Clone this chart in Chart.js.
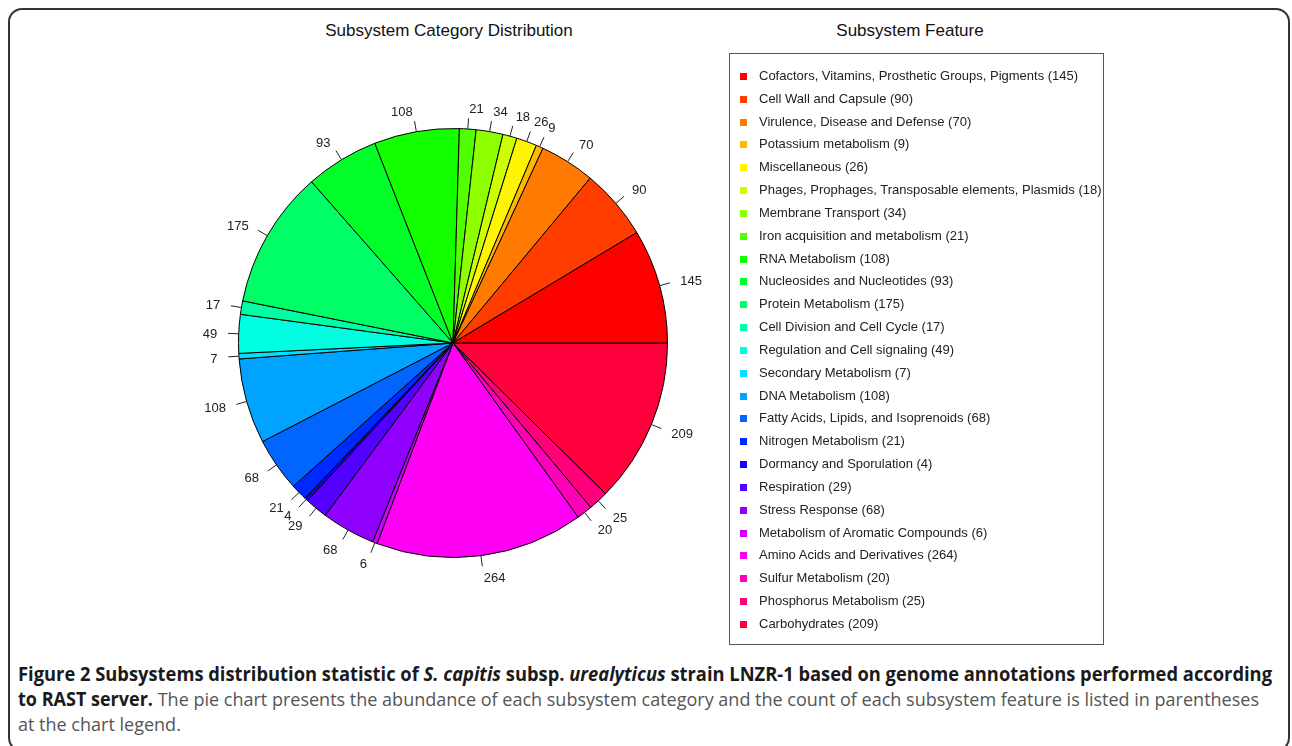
<!DOCTYPE html>
<html lang="en">
<head>
    <meta charset="UTF-8">
    <title>Subsystem Category Distribution</title>
    <script src="https://cdn.jsdelivr.net/npm/chart.js"></script>
    <style>
        body {
            margin: 0;
            width: 1292px;
            height: 746px;
            overflow: hidden;
            background: #fff;
            font-family: Arial, "Liberation Sans", sans-serif;
            position: relative;
        }
        .frame {
            position: absolute;
            left: 8px;
            top: 8px;
            width: 1278px;
            height: 740px;
            border: 2px solid #333;
            border-radius: 14px;
        }
        .title {
            position: absolute;
            top: 21px;
            font-size: 17px;
            color: #111;
            white-space: nowrap;
            transform: translateX(-50%);
        }
        #chart {
            position: absolute;
            left: 153px;
            top: 43px;
        }
        .legend-box {
            position: absolute;
            left: 729px;
            top: 53px;
            width: 375px;
            height: 592px;
            border: 1px solid #555;
            box-sizing: border-box;
            padding-top: 11px;
        }
        .legend-row {
            height: 22.84px;
            line-height: 22.84px;
            font-size: 13px;
            color: #222;
            white-space: nowrap;
            position: relative;
            padding-left: 29px;
        }
        .legend-row span.mark {
            position: absolute;
            left: 10px;
            top: 8px;
            width: 7px;
            height: 7px;
        }
        .caption {
            position: absolute;
            left: 18px;
            top: 662px;
            font-family: "Open Sans", "Noto Sans", sans-serif;
            font-size: 19px;
            line-height: 25px;
            color: #555;
            white-space: nowrap;
        }
        .caption .line {
            display: block;
            width: max-content;
            transform-origin: 0 0;
        }
        .caption b {
            color: #1a1a1a;
        }
    </style>
</head>
<body>
    <div class="frame"></div>
    <div class="title" style="left: 449px;">Subsystem Category Distribution</div>
    <div class="title" style="left: 910px;">Subsystem Feature</div>
    <canvas id="chart" width="600" height="600"></canvas>
    <div class="legend-box" id="legend"></div>
    <div class="caption">
        <span class="line" id="cap1"><b>Figure 2 Subsystems distribution statistic of <i>S. capitis</i> subsp. <i>urealyticus</i> strain LNZR-1 based on genome annotations performed according</b></span>
        <span class="line" id="cap2"><b>to RAST server.</b> The pie chart presents the abundance of each subsystem category and the count of each subsystem feature is listed in parentheses</span>
        <span class="line" id="cap3">at the chart legend.</span>
    </div>

    <script>
        // categories in legend order (counterclockwise from 3 o'clock)
        const categories = [
            'Cofactors, Vitamins, Prosthetic Groups, Pigments',
            'Cell Wall and Capsule',
            'Virulence, Disease and Defense',
            'Potassium metabolism',
            'Miscellaneous',
            'Phages, Prophages, Transposable elements, Plasmids',
            'Membrane Transport',
            'Iron acquisition and metabolism',
            'RNA Metabolism',
            'Nucleosides and Nucleotides',
            'Protein Metabolism',
            'Cell Division and Cell Cycle',
            'Regulation and Cell signaling',
            'Secondary Metabolism',
            'DNA Metabolism',
            'Fatty Acids, Lipids, and Isoprenoids',
            'Nitrogen Metabolism',
            'Dormancy and Sporulation',
            'Respiration',
            'Stress Response',
            'Metabolism of Aromatic Compounds',
            'Amino Acids and Derivatives',
            'Sulfur Metabolism',
            'Phosphorus Metabolism',
            'Carbohydrates'
        ];
        const counts = [145, 90, 70, 9, 26, 18, 34, 21, 108, 93, 175, 17, 49, 7, 108, 68, 21, 4, 29, 68, 6, 264, 20, 25, 209];

        // rainbow palette like R's rainbow(n)
        function rainbow(n) {
            let cols = [];
            for (let i = 0; i < n; i++) {
                cols.push('hsl(' + (i * 360 / n) + ', 100%, 50%)');
            }
            return cols;
        }
        const colors = rainbow(categories.length);

        // html legend
        let legendHtml = '';
        categories.forEach((c, i) => {
            legendHtml += '<div class="legend-row"><span class="mark" style="background:' + colors[i] + '"></span>' +
                c + ' (' + counts[i] + ')</div>';
        });
        document.getElementById('legend').innerHTML = legendHtml;

        // squeeze caption lines to the widths in the figure (condensed font look)
        function fitLine(id, target) {
            let el = document.getElementById(id);
            let k = target / el.getBoundingClientRect().width;
            el.style.transform = 'scaleX(' + k + ')';
            return k;
        }
        fitLine('cap1', 1254);
        let k2 = fitLine('cap2', 1241);
        document.getElementById('cap3').style.transform = 'scaleX(' + k2 + ')';

        // count labels with tick lines outside the pie
        const outerLabels = {
            id: 'outerLabels',
            afterDatasetsDraw(chart) {
                const ctx = chart.ctx;
                const meta = chart.getDatasetMeta(0);
                const values = chart.data.datasets[0].data;
                ctx.save();
                ctx.strokeStyle = '#222';
                ctx.lineWidth = 1;
                ctx.fillStyle = '#222';
                ctx.font = '13px Arial, "Liberation Sans", sans-serif';
                ctx.textBaseline = 'middle';
                meta.data.forEach((arc, i) => {
                    const p = arc.getProps(['x', 'y', 'startAngle', 'endAngle', 'outerRadius'], true);
                    const mid = (p.startAngle + p.endAngle) / 2;
                    const c = Math.cos(mid), s = Math.sin(mid);
                    const r = p.outerRadius;
                    ctx.beginPath();
                    ctx.moveTo(p.x + c * r, p.y + s * r);
                    ctx.lineTo(p.x + c * r * 1.05, p.y + s * r * 1.05);
                    ctx.stroke();
                    ctx.textAlign = c < 0 ? 'right' : 'left';
                    ctx.fillText(String(values[i]), p.x + c * r * 1.1, p.y + s * r * 1.1 + 1.5);
                });
                ctx.restore();
            }
        };

        // chart.js draws clockwise, so reverse to get the counterclockwise order
        const pieLabels = categories.slice().reverse();
        const pieData = counts.slice().reverse();
        const pieColors = colors.slice().reverse();

        new Chart(document.getElementById('chart'), {
            type: 'pie',
            data: {
                labels: pieLabels,
                datasets: [{
                    data: pieData,
                    backgroundColor: pieColors,
                    borderColor: '#000',
                    borderWidth: 1
                }]
            },
            options: {
                responsive: false,
                animation: false,
                rotation: 90,
                layout: { padding: 85 },
                plugins: {
                    legend: { display: false },
                    tooltip: { enabled: false }
                }
            },
            plugins: [outerLabels]
        });
    </script>
</body>
</html>
